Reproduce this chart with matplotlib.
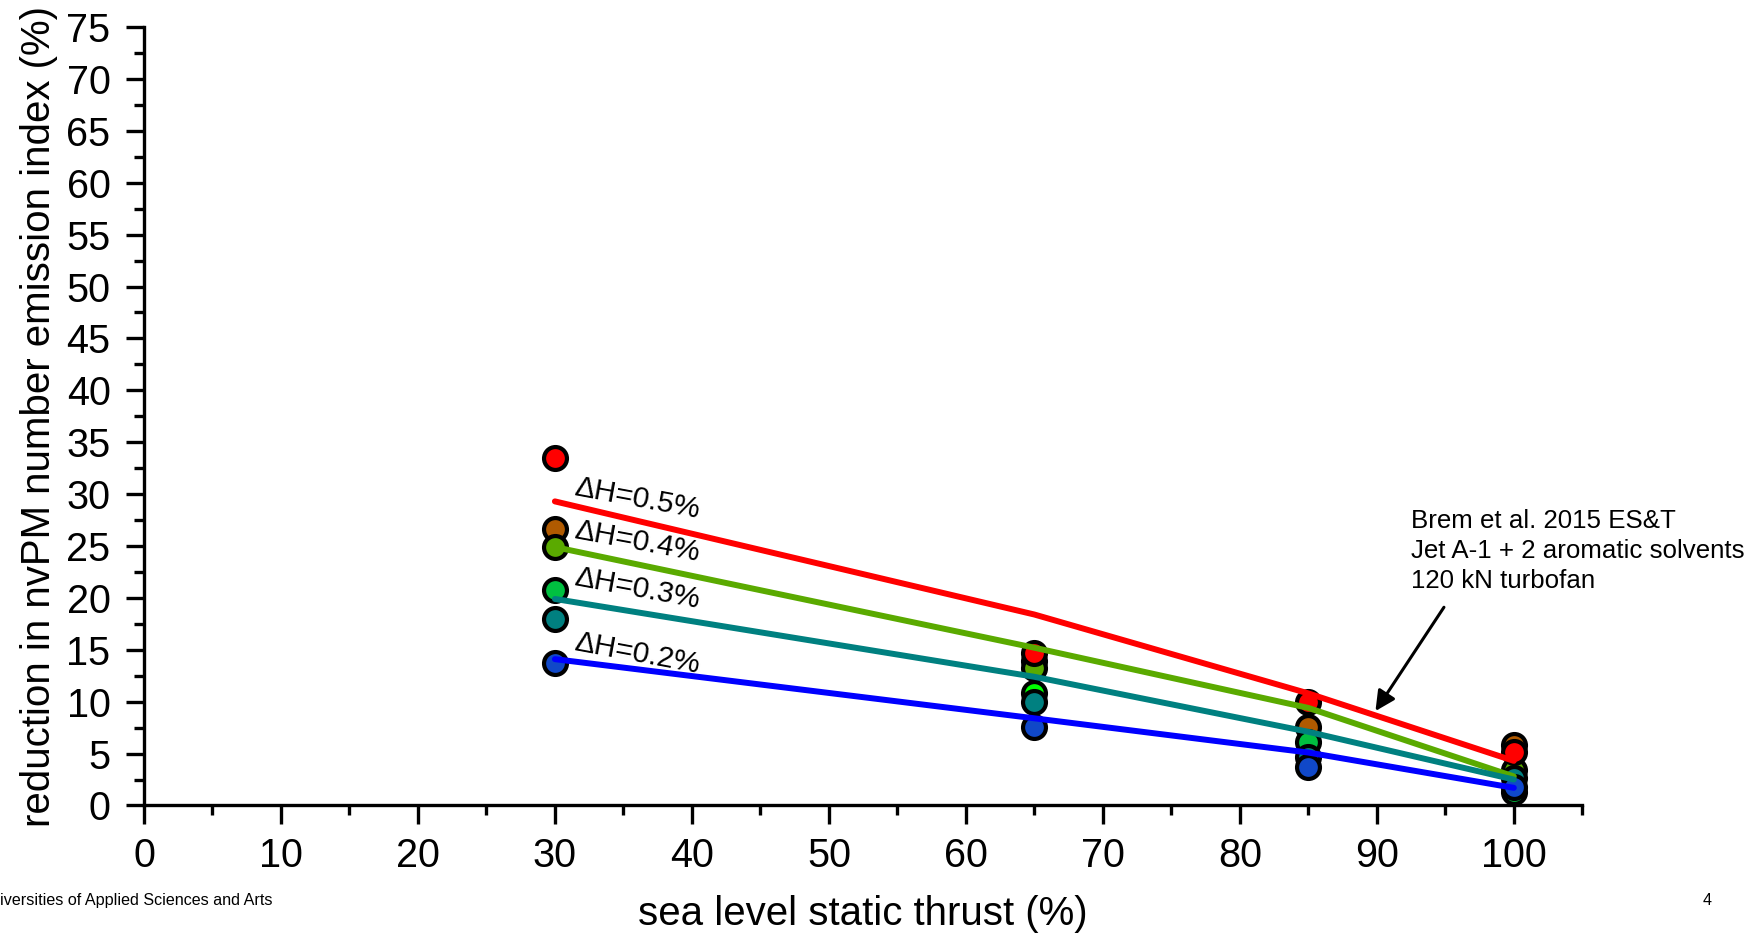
import numpy as np
import matplotlib
matplotlib.use("Agg")
from matplotlib import pyplot as plt
from matplotlib.ticker import MultipleLocator

plt.rcParams['font.family'] = ['Liberation Sans', 'DejaVu Sans']

# fitted curves, one per hydrogen content increase
fit_x = [30, 65, 85, 100]
fit_red = [29.3, 18.4, 10.8, 4.3]
fit_green = [24.9, 15.2, 9.4, 2.8]
fit_teal = [19.9, 12.4, 7.1, 2.5]
fit_blue = [14.1, 8.4, 5.1, 1.7]
fit_labels = ['\u0394H=0.5%', '\u0394H=0.4%', '\u0394H=0.3%', '\u0394H=0.2%']
label_y = [29.9, 25.8, 21.2, 15.0]

# measured points
brown_x = [30, 65, 85, 100]
brown_y = [26.6, 13.9, 7.6, 5.8]
olive_x = [30, 65, 100]
olive_y = [24.9, 13.2, 3.4]
red_x = [30, 65, 85, 100]
red_y = [33.5, 14.7, 10.0, 5.2]
green_x = [30, 85, 100]
green_y = [20.8, 6.1, 1.3]
lime_x = [65]
lime_y = [10.8]
teal_x = [30, 65, 85, 100]
teal_y = [18.0, 10.0, 4.7, 2.6]
blue_x = [30, 65, 85, 100]
blue_y = [13.7, 7.6, 3.7, 1.8]

fig = plt.figure(figsize=(17.64, 9.34), dpi=100)
ax = fig.add_axes([0.0816, 0.1376, 0.8154, 0.8334])

pts = [(brown_x, brown_y, '#b05a00'), (olive_x, olive_y, '#5aaa00'),
       (red_x, red_y, '#ff0000'), (green_x, green_y, '#00c040'),
       (lime_x, lime_y, '#00ff00'), (teal_x, teal_y, '#008080'),
       (blue_x, blue_y, '#1048c8')]
for px, py, c in pts:
	ax.plot(px, py, ls='none', marker='o', markersize=16.5, markerfacecolor=c,
		markeredgecolor='black', markeredgewidth=3, zorder=2, clip_on=False)

fits = [(fit_red, '#ff0000'), (fit_green, '#5aaa00'), (fit_teal, '#008080'), (fit_blue, '#0000ff')]
for (fy, c), lab, ly in zip(fits, fit_labels, label_y):
	ax.plot(fit_x, fy, c=c, lw=4.3, solid_capstyle='round', zorder=3)
	ax.text(31.3, ly, lab, fontsize=21.5, rotation=-10.5, rotation_mode='anchor',
		ha='left', va='baseline', zorder=4)

ax.annotate('', xy=(89.9, 9.1), xytext=(94.9, 19.1),
	arrowprops=dict(arrowstyle='-|>', color='black', lw=2.2, mutation_scale=30,
		shrinkA=0, shrinkB=0))
ax.text(92.5, 28.6, 'Brem et al. 2015 ES&T\nJet A-1 + 2 aromatic solvents\n120 kN turbofan',
	fontsize=18.6, ha='left', va='top', linespacing=1.33)

ax.set_xlim(0, 105)
ax.set_ylim(0, 75)
ax.xaxis.set_major_locator(MultipleLocator(10))
ax.xaxis.set_minor_locator(MultipleLocator(5))
ax.yaxis.set_major_locator(MultipleLocator(5))
ax.yaxis.set_minor_locator(MultipleLocator(2.5))
ax.set_xticks(np.arange(0, 101, 10))
for s in ['top', 'right']:
	ax.spines[s].set_visible(False)
for s in ['left', 'bottom']:
	ax.spines[s].set_linewidth(2.4)
ax.tick_params(which='major', direction='out', length=14, width=2.4, labelsize=28.5)
ax.tick_params(which='minor', direction='out', length=7, width=2.4)
ax.tick_params(axis='x', which='major', pad=9)
ax.tick_params(axis='y', which='major', length=13, pad=11)

ax.set_xlabel('sea level static thrust (%)', fontsize=29, labelpad=14)
ax.set_ylabel('reduction in nvPM number emission index (%)', fontsize=29, labelpad=6)

fig.text(0.0, 0.036, 'iversities of Applied Sciences and Arts', fontsize=11.6, ha='left', va='center')
fig.text(0.968, 0.036, '4', fontsize=11.6, ha='center', va='center')

fig.savefig('out.png', dpi=100)
